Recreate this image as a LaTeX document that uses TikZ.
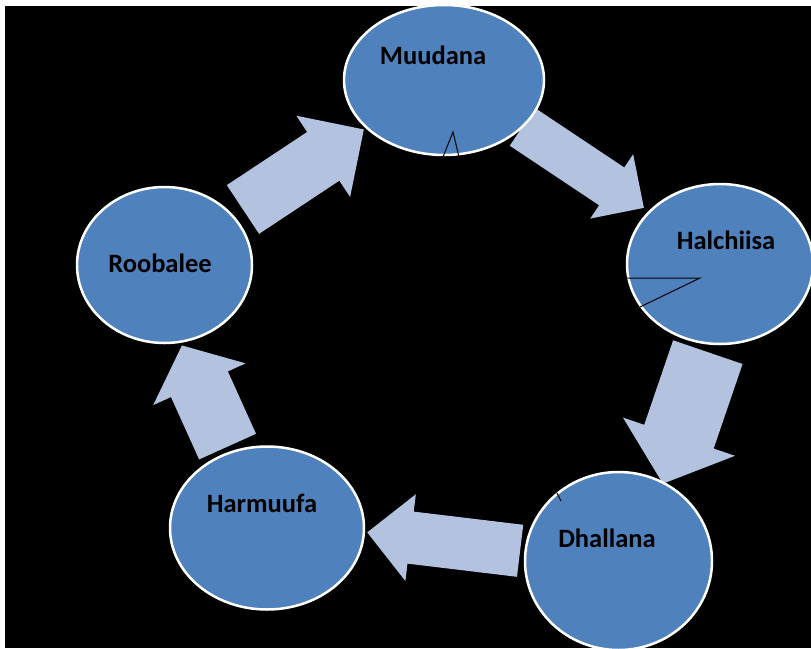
\documentclass[tikz,border=0pt]{standalone}
\usepackage{fontspec}
\setmainfont{Carlito}
\usetikzlibrary{shapes.geometric,shapes.arrows}
\definecolor{phaseblue}{HTML}{4F81BD}
\definecolor{flowblue}{HTML}{B3C2DE}
\begin{document}
\begin{tikzpicture}[x=1pt,y=-1pt,
    phase/.style={ellipse,fill=phaseblue,draw=white,line width=2.5pt,inner sep=0pt},
    phasetext/.style={font=\fontsize{26.5}{30}\selectfont\bfseries,text=black},
    flow/.style={single arrow,fill=flowblue,inner xsep=0pt,anchor=tip,sloped,
      allow upside down,single arrow tip angle=90}]
  \fill[white] (0,0) rectangle (811,648);
  \fill[black] (5,6) rectangle (811,648);
  \useasboundingbox (0,0) rectangle (811,648);
  \coordinate (muudana-c) at (444,80);
  \coordinate (halchiisa-c) at (720,264);
  \coordinate (dhallana-c) at (618.5,561);
  \coordinate (harmuufa-c) at (267,528);
  \coordinate (roobalee-c) at (164.5,265);
  \path (roobalee-c) -- (muudana-c) node[flow,pos=0.72,yshift=3pt,
    minimum height=145pt,inner ysep=29pt,single arrow head extend=19.5pt] (flow1){};
  \path (muudana-c) -- (halchiisa-c) node[flow,pos=0.716,yshift=4.5pt,
    minimum height=146pt,inner ysep=22.5pt,single arrow head extend=16pt] (flow2){};
  \path (halchiisa-c) -- (dhallana-c) node[flow,pos=0.722,yshift=17pt,
    minimum height=139pt,inner ysep=36.5pt,single arrow head extend=22.5pt,
    single arrow tip angle=100] (flow3){};
  \path (dhallana-c) -- (harmuufa-c) node[flow,pos=0.717,yshift=-5pt,rotate=-1.5,
    minimum height=154pt,inner ysep=26pt,single arrow head extend=17.5pt] (flow4){};
  \path (harmuufa-c) -- (roobalee-c) node[flow,pos=0.713,yshift=13pt,rotate=3,
    minimum height=111pt,inner ysep=31pt,single arrow head extend=19.5pt,
    single arrow tip angle=100] (flow5){};
  \draw
    (muudana-c) node[phase,minimum width=200pt,minimum height=150pt] (muudana){}
    (halchiisa-c) node[phase,minimum width=186pt,minimum height=160pt] (halchiisa){}
    (dhallana-c) node[phase,minimum width=187pt,minimum height=178pt] (dhallana){}
    (harmuufa-c) node[phase,minimum width=194pt,minimum height=163pt] (harmuufa){}
    (roobalee-c) node[phase,minimum width=175pt,minimum height=156pt] (roobalee){};
  \draw
    (433,55) node[phasetext] (muudana-t){Muudana}
    (726,240) node[phasetext] (halchiisa-t){Halchiisa}
    (607,538) node[phasetext] (dhallana-t){Dhallana}
    (262,503) node[phasetext] (harmuufa-t){Harmuufa}
    (160,263) node[phasetext] (roobalee-t){Roobalee};
  \begin{scope}[black,line width=1pt]
    \draw (443,157) -- (453,132) -- (459,157);
    \draw (627,278) -- (700,278) -- (640,307);
    \draw (557,493) -- (561,501);
  \end{scope}
\end{tikzpicture}
\end{document}
